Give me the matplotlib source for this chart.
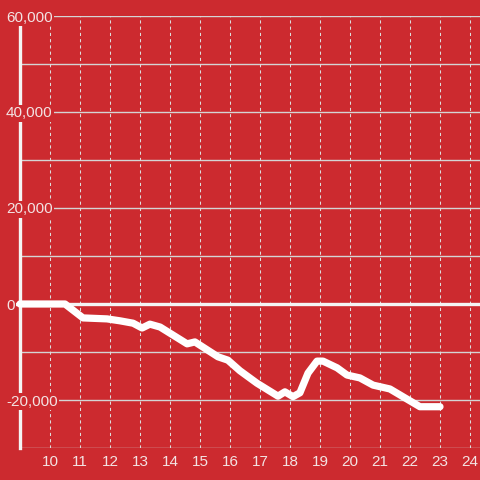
import matplotlib
matplotlib.use('Agg')
import matplotlib.pyplot as plt

# hour of day vs cumulative value
hours = [9, 10.5, 11.1, 11.9, 12.33, 12.77, 13.07, 13.33, 13.67, 14.57, 14.83,
         15.6, 15.93, 16.33, 16.9, 17.6, 17.83, 18.1, 18.33, 18.6, 18.9, 19.1,
         19.57, 19.9, 20.33, 20.77, 21.33, 22.33, 23.0]
values = [0, 0, -2900, -3100, -3500, -4000, -5000, -4200, -4800, -8300, -7900,
          -11000, -11700, -13900, -16500, -19200, -18300, -19300, -18500, -14400,
          -11900, -11900, -13300, -14800, -15400, -16900, -17700, -21400, -21400]

xticks = list(range(10, 25))
ygrid = list(range(-30000, 60001, 10000))
ylabels = [60000, 40000, 20000, 0, -20000]

bg = '#cc2a2f'
fg = '#f3e3e3'

plt.rcParams['font.family'] = ['Liberation Sans', 'DejaVu Sans']

fig = plt.figure(figsize=(4.8, 4.8), dpi=100, facecolor=bg)
ax = fig.add_axes([20/480, 32/480, 460/480, 432/480], facecolor=bg)
ax.set_xlim(9, 9 + 460/30)
ax.set_ylim(-30000, 60000)

for s in ax.spines.values():
    s.set_visible(False)

# grid
for y in ygrid:
    if y != 0:
        ax.axhline(y, color='#d4d4d4', lw=1.0, zorder=1)
for x in xticks:
    ax.axvline(x, color='#dddddd', lw=0.75, ls=(0, (3, 3)), zorder=1)

# left axis and zero line
ax.axvline(9, color='#f4f4f4', lw=2.4, zorder=2, clip_on=False)
ax.axhline(0, xmin=-3/460, xmax=1, color='#f4f4f4', lw=2.4, zorder=2, clip_on=False)

ax.plot(hours, values, color='white', lw=5.2, solid_capstyle='round',
        solid_joinstyle='round', zorder=4, clip_on=False)

ax.set_xticks(xticks)
ax.set_xticklabels([str(x) for x in xticks])
ax.set_yticks([])
ax.tick_params(axis='x', length=0, pad=5, labelsize=11, labelcolor=fg)

ytrans = ax.get_yaxis_transform()
for y in ylabels:
    ax.text(-14/460, y, f'{y:,}', transform=ytrans, ha='left', va='center_baseline',
            fontsize=11, color=fg, zorder=3,
            bbox=dict(boxstyle='square,pad=0.12', facecolor=bg, edgecolor='none'))

fig.savefig('out.png', dpi=100, facecolor=bg)
